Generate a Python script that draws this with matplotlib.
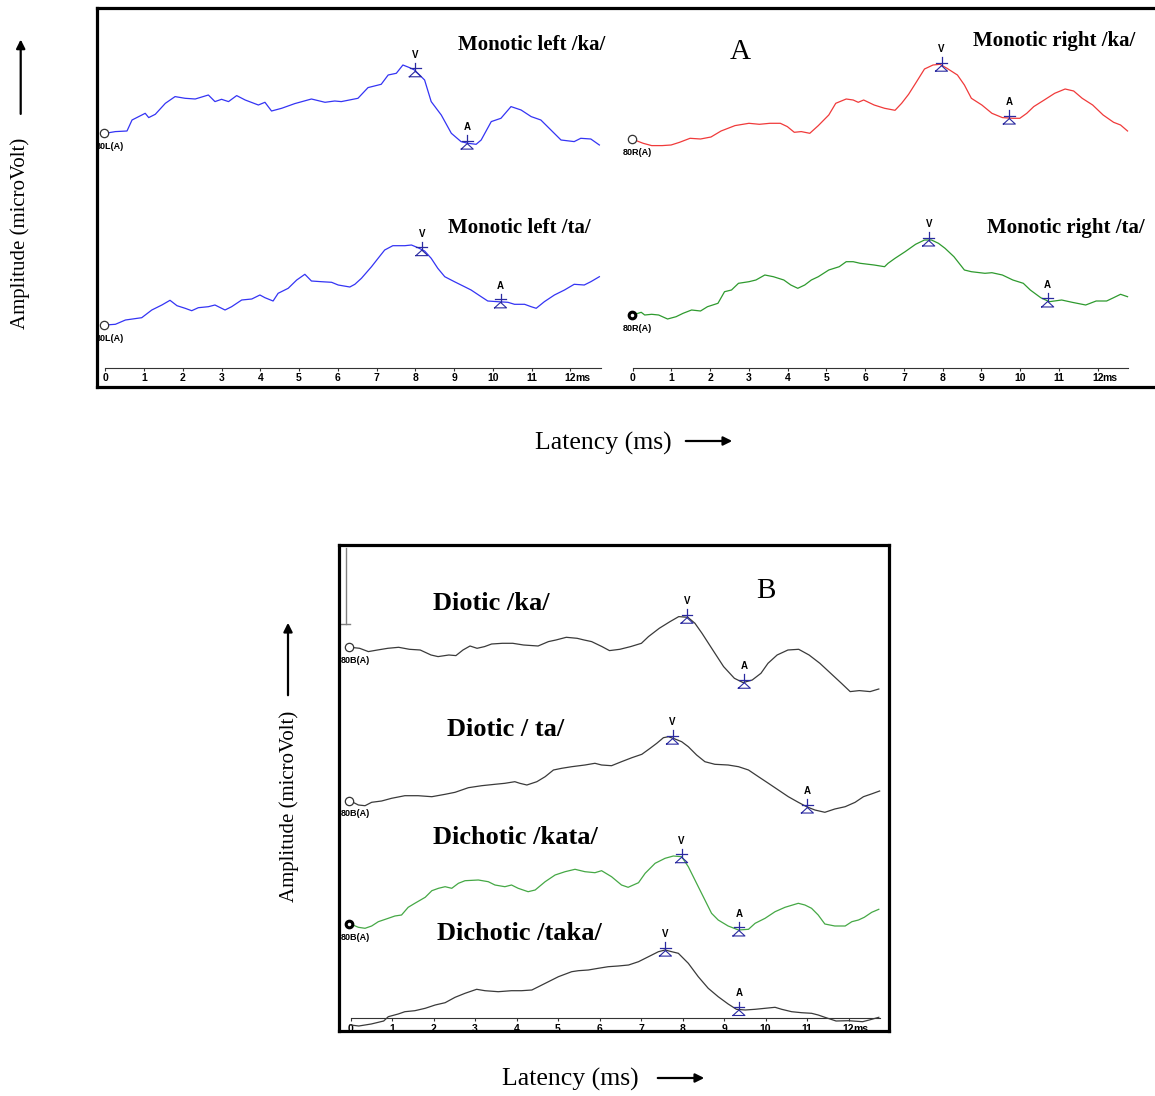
import numpy as np
import matplotlib.pyplot as plt

# ---- data: (latency ms, amplitude), amplitude in px-ish units
left_ka = [(0, 0), (0.26, 1.7), (0.56, 2.3), (0.69, 13.3), (1.03, 20), (1.12, 15.7), (1.29, 19),
           (1.55, 30), (1.80, 36.7), (2.06, 35), (2.32, 34.3), (2.66, 38.3), (2.83, 31.7), (3.00, 34),
           (3.18, 31.7), (3.39, 37.7), (3.61, 33.3), (3.95, 28.3), (4.12, 31), (4.29, 22.3), (4.55, 25),
           (4.89, 29.7), (5.32, 34.3), (5.67, 31), (5.92, 32.3), (6.09, 31.7), (6.52, 35), (6.78, 45.7),
           (7.12, 49), (7.30, 58.3), (7.51, 60), (7.68, 68.3), (7.85, 65.7), (7.98, 63.3), (8.24, 53.3),
           (8.41, 31.7), (8.67, 18.3), (8.93, 0), (9.18, -8.3), (9.36, -10), (9.57, -11), (9.70, -6.7),
           (9.96, 11.7), (10.21, 15), (10.47, 26.7), (10.73, 23.3), (10.99, 16.7), (11.24, 13.3),
           (11.50, 3.3), (11.76, -6.7), (12.10, -8.3), (12.27, -5), (12.53, -5.7), (12.75, -11.7)]
left_ta = [(0, 0), (0.26, 0.7), (0.52, 5), (0.94, 7.3), (1.20, 15), (1.46, 20), (1.67, 24.7), (1.85, 19.3),
           (2.06, 16.7), (2.23, 14.3), (2.40, 17.3), (2.66, 18.3), (2.83, 20), (3.09, 15), (3.26, 18.3),
           (3.52, 25), (3.78, 26), (3.99, 30), (4.12, 27.3), (4.33, 24), (4.46, 31.7), (4.72, 36.7),
           (4.94, 45), (5.15, 50.7), (5.32, 44), (5.58, 43.3), (5.84, 42.7), (6.01, 40), (6.31, 38),
           (6.44, 40.7), (6.61, 46.7), (6.87, 58.3), (7.04, 66.7), (7.21, 75), (7.42, 79.3), (7.73, 79.3),
           (7.90, 80), (8.07, 77.3), (8.24, 74), (8.41, 66.7), (8.58, 56.7), (8.76, 48.3), (9.01, 43.3),
           (9.27, 38.3), (9.44, 35), (9.70, 28.3), (9.87, 24), (10.13, 23.3), (10.39, 22.7), (10.56, 20.7),
           (10.82, 20.7), (10.99, 18.3), (11.12, 16.7), (11.33, 23.3), (11.59, 30), (11.85, 35),
           (12.10, 40.7), (12.36, 40), (12.53, 43.3), (12.75, 48.3)]
right_ka = [(0, 0), (0.27, -4), (0.49, -6.3), (0.76, -6.3), (0.99, -5.7), (1.21, -3), (1.48, 1), (1.75, 0.3),
            (2.02, 2.3), (2.28, 8.3), (2.64, 13.7), (3.00, 16), (3.27, 15), (3.54, 16), (3.81, 16),
            (3.99, 12.7), (4.17, 7), (4.35, 7.7), (4.57, 6), (4.79, 13.7), (5.06, 24.3), (5.24, 36),
            (5.51, 40.3), (5.69, 39.3), (5.82, 37), (5.96, 39.3), (6.23, 34.3), (6.50, 31), (6.77, 29),
            (6.94, 36), (7.12, 45), (7.30, 56), (7.53, 70.3), (7.75, 74.3), (7.93, 75), (8.11, 71),
            (8.38, 64.3), (8.56, 54.3), (8.74, 41), (9.01, 34.3), (9.27, 26), (9.54, 21.7), (9.81, 21),
            (9.99, 21), (10.17, 26), (10.35, 32.7), (10.62, 39.3), (10.89, 46), (11.16, 50.3),
            (11.38, 48.3), (11.60, 41), (11.87, 34.3), (12.14, 24.3), (12.41, 17), (12.59, 14.3),
            (12.77, 8.3)]
right_ta = [(0, 0), (0.22, 2.7), (0.31, 0), (0.49, 0.7), (0.67, 0), (0.90, -4), (1.12, -1.7), (1.30, 1.7),
            (1.52, 5), (1.75, 4), (1.93, 8.3), (2.20, 11.7), (2.37, 23.3), (2.55, 25), (2.73, 31.7),
            (3.00, 33.3), (3.18, 35), (3.41, 40), (3.63, 38.3), (3.90, 35), (4.08, 30), (4.26, 26.7),
            (4.44, 30), (4.61, 35), (4.79, 38.3), (5.06, 45), (5.33, 48.3), (5.51, 53.3), (5.69, 53.3),
            (5.87, 51.7), (6.23, 50), (6.50, 48.3), (6.59, 51.7), (6.77, 56.7), (7.03, 63.3), (7.30, 70.7),
            (7.53, 75), (7.71, 75), (7.89, 71.7), (8.06, 66.7), (8.29, 58.3), (8.56, 45), (8.74, 43.3),
            (9.09, 41.7), (9.27, 42.3), (9.54, 40), (9.81, 35), (10.08, 31.7), (10.26, 25), (10.53, 17.3),
            (10.75, 13.3), (11.07, 15), (11.34, 12.7), (11.69, 10), (11.96, 14), (12.23, 14),
            (12.41, 17.3), (12.59, 20.7), (12.77, 18.3)]
diotic_ka = [(0, 0), (0.22, -1), (0.43, -4.3), (0.65, -2.7), (0.90, -1), (1.16, 0), (1.42, -2), (1.68, -2.7),
             (1.94, -7.7), (2.11, -9.3), (2.37, -7.7), (2.54, -8.3), (2.71, -2.7), (2.88, 1.3), (3.05, -1),
             (3.23, 0.7), (3.40, 3.3), (3.66, 4), (3.91, 4), (4.17, 2.3), (4.52, 1.3), (4.77, 5.7),
             (4.95, 7.3), (5.20, 10), (5.46, 9), (5.63, 7.3), (5.81, 5.7), (6.06, 0.7), (6.24, -3.3),
             (6.49, -2), (6.75, 0.7), (7.01, 4), (7.18, 10.7), (7.44, 19), (7.70, 25.7), (7.91, 30.7),
             (8.13, 30), (8.30, 24), (8.47, 14), (8.73, -2.7), (8.99, -19.3), (9.25, -31), (9.46, -35.3),
             (9.68, -32.7), (9.89, -26), (10.06, -16), (10.28, -7.7), (10.54, -2.7), (10.80, -2),
             (11.05, -7.7), (11.31, -16), (11.57, -26), (11.83, -36), (12.04, -44.3), (12.26, -43.3),
             (12.52, -44.3), (12.73, -41.7)]
diotic_ta = [(0, 0), (0.19, -4), (0.35, -4.7), (0.51, -1.3), (0.75, 0), (0.99, 2.7), (1.31, 5.3), (1.63, 5.3),
             (1.96, 4.3), (2.28, 6.7), (2.52, 8.7), (2.84, 13.3), (3.16, 15.3), (3.48, 16.7), (3.72, 17.7),
             (3.96, 19.3), (4.08, 17.7), (4.25, 16), (4.49, 19.3), (4.69, 24.3), (4.89, 31), (5.09, 32.7),
             (5.33, 34.3), (5.65, 36), (5.89, 37.7), (6.05, 36), (6.29, 35.3), (6.53, 39.3), (6.78, 43.3),
             (7.02, 46.7), (7.22, 52.7), (7.38, 57.7), (7.54, 63.3), (7.66, 64.3), (7.82, 62), (7.98, 59.3),
             (8.14, 54.3), (8.34, 46), (8.54, 39.3), (8.78, 36.7), (9.10, 36), (9.35, 34.3), (9.59, 31),
             (9.83, 24.3), (10.07, 17.7), (10.31, 11), (10.55, 4.3), (10.79, -1.3), (10.99, -5.7),
             (11.19, -9), (11.43, -11.3), (11.67, -8), (11.92, -5.7), (12.16, -1.3), (12.36, 4.3),
             (12.55, 7), (12.75, 10)]
dichotic_kata = [(0, 0), (0.19, -3.3), (0.35, -4.3), (0.51, -2), (0.67, 2.3), (0.91, 5.7), (1.07, 8), (1.23, 9),
                 (1.39, 16.7), (1.55, 20.7), (1.80, 26.7), (1.96, 33.3), (2.12, 35.7), (2.28, 37.3),
                 (2.44, 35.7), (2.60, 40.7), (2.76, 43.3), (3.08, 44), (3.32, 42.3), (3.48, 39), (3.72, 37.3),
                 (3.88, 39), (4.04, 35.7), (4.28, 32.3), (4.45, 34), (4.69, 42.3), (4.93, 49), (5.17, 52.3),
                 (5.41, 54.7), (5.65, 52.3), (5.89, 51.3), (6.05, 53.3), (6.29, 47.3), (6.53, 39), (6.69, 36.7),
                 (6.94, 41.3), (7.10, 50.7), (7.34, 60.7), (7.58, 65.7), (7.78, 68), (7.98, 67.3), (8.14, 57.3),
                 (8.38, 37.3), (8.54, 24), (8.70, 10.7), (8.86, 4), (9.10, -2), (9.35, -6), (9.59, -5.3),
                 (9.75, 0.7), (9.99, 5.7), (10.23, 12.3), (10.47, 16.7), (10.79, 20.7), (10.95, 19),
                 (11.11, 15.7), (11.27, 9), (11.43, 0), (11.67, -2), (11.92, -2), (12.08, 2.3), (12.24, 4),
                 (12.38, 6.7), (12.56, 11.7), (12.73, 14.7)]
dichotic_taka = [(0, 0), (0.2, -1), (0.5, 1), (0.8, 4), (0.91, 8.3), (1.15, 11), (1.31, 13.3), (1.55, 14.3),
                 (1.80, 16.7), (2.04, 20), (2.28, 22.3), (2.52, 27.7), (2.76, 31.7), (3.04, 35.7), (3.24, 34.3),
                 (3.56, 33.3), (3.88, 34.3), (4.12, 34.3), (4.37, 35), (4.53, 38.3), (4.77, 43.3), (5.01, 48.3),
                 (5.33, 53.3), (5.49, 54.3), (5.73, 55), (5.97, 56.7), (6.21, 58.3), (6.45, 59), (6.70, 60),
                 (6.94, 63.3), (7.18, 68.3), (7.42, 73.3), (7.58, 75), (7.74, 73.3), (7.90, 71.7), (8.14, 61.7),
                 (8.38, 48.3), (8.62, 36.7), (8.86, 28.3), (9.10, 21), (9.30, 15.7), (9.51, 15), (9.75, 15.7),
                 (9.99, 16.7), (10.23, 17.7), (10.39, 15.7), (10.63, 13.3), (10.87, 12.3), (11.11, 11.7),
                 (11.27, 10), (11.43, 7.7), (11.7, 4), (12.0, 4.3), (12.34, 3.3), (12.5, 5), (12.73, 7.7)]

# wave V / A latencies (ms)
peaks_left_ka = [(8.00, "V"), (9.34, "A")]
peaks_left_ta = [(8.17, "V"), (10.20, "A")]
peaks_right_ka = [(7.97, "V"), (9.72, "A")]
peaks_right_ta = [(7.64, "V"), (10.71, "A")]
peaks_diotic_ka = [(8.11, "V"), (9.49, "A")]
peaks_diotic_ta = [(7.76, "V"), (11.01, "A")]
peaks_kata = [(7.98, "V"), (9.36, "A")]
peaks_taka = [(7.59, "V"), (9.36, "A")]

tick_labels = ["0", "1", "2", "3", "4", "5", "6", "7", "8", "9", "10", "11", "12"]

W, H = 1155, 1096
SERIF = "Liberation Serif"
SANS = "Liberation Sans"
MARK = "#2a2aa0"

fig = plt.figure(figsize=(W / 100, H / 100), dpi=100)


def px_axes(x0, y0, x1, y1):
    return fig.add_axes([x0 / W, 1 - y1 / H, (x1 - x0) / W, (y1 - y0) / H])


def box(x0, y0, x1, y1, right=True):
    b = px_axes(x0, y0, x1, y1)
    b.set_xticks([])
    b.set_yticks([])
    for s in b.spines.values():
        s.set_linewidth(2.3)
    b.spines["right"].set_visible(right)
    return b


def trace_axes(x0, y0, y1, xmax, ppm, axis_y):
    ax = px_axes(x0, y0, x0 + xmax * ppm, y1)
    ax.set_xlim(0, xmax)
    ax.set_ylim(0, y1 - y0)
    ax.patch.set_visible(False)
    for s in ["left", "right", "top"]:
        ax.spines[s].set_visible(False)
    ax.spines["bottom"].set_position(("data", y1 - axis_y))
    ax.spines["bottom"].set_linewidth(0.8)
    ax.spines["bottom"].set_color("#333333")
    ax.set_yticks([])
    ax.set_xticks(range(13))
    ax.set_xticklabels(tick_labels, fontsize=7.5, fontweight="bold", family=SANS)
    ax.tick_params(axis="x", length=2.5, width=0.8, pad=1.5, color="#333333")
    ax.annotate("ms", xy=(12, y1 - axis_y), xytext=(3.6, -4), textcoords="offset points",
                ha="left", va="top", fontsize=7.5, fontweight="bold", family=SANS)
    ax.ppm = ppm
    return ax


def peak_marks(ax, ms, amp, offset, peaks):
    d = 6 / ax.ppm
    for lat, lab in peaks:
        y = np.interp(lat, ms, amp) + offset
        ax.plot([lat, lat], [y, y + 8], color=MARK, lw=0.9, zorder=5)
        ax.plot([lat - 0.9 * d, lat + 0.9 * d], [y + 2.5, y + 2.5], color=MARK, lw=0.9, zorder=5)
        ax.plot([lat - d, lat, lat + d, lat - d], [y - 6, y - 0.5, y - 6, y - 6], color=MARK, lw=0.8, zorder=5)
        ax.text(lat, y + 16, lab, ha="center", va="center", fontsize=7, fontweight="bold", family=SANS)


def draw_trace(ax, pts, offset, color, peaks, tag=None, filled=False, clipbox=None):
    ms, amp = np.array(pts).T
    ax.plot(ms, amp + offset, color=color, lw=0.9, clip_on=False, zorder=3)
    if tag is not None:
        if filled:
            ax.plot(-0.03, amp[0] + offset, "o", ms=6, mfc="black", mec="black", clip_on=False, zorder=4)
            ax.plot(-0.03, amp[0] + offset, "o", ms=1.5, mfc="white", mec="white", clip_on=False, zorder=5)
        else:
            ax.plot(-0.03, amp[0] + offset, "o", ms=6, mfc="white", mec="#333333", mew=0.9,
                    clip_on=False, zorder=4)
        t = ax.text(-9.5 / ax.ppm, amp[0] + offset - 13, tag, ha="left", va="center", fontsize=6.5,
                    fontweight="bold", family=SANS, clip_on=True)
        t.set_clip_box(clipbox.bbox)
    peak_marks(ax, ms, amp, offset, peaks)


def ftext(x, y, s, **kw):
    fig.text(x / W, 1 - y / H, s, **kw)


def arrow(x0, y0, x1, y1):
    fig.add_artist(plt.matplotlib.patches.FancyArrowPatch(
        (x0 / W, 1 - y0 / H), (x1 / W, 1 - y1 / H), transform=fig.transFigure,
        arrowstyle="-|>", mutation_scale=13, lw=1.6, color="black"))


# ---- panel A
boxA = box(97, 8, 1170, 387, right=False)
axL = trace_axes(105.3, 10, 385, 12.8, 38.75, 367.7)
axR = trace_axes(632.7, 10, 385, 12.78, 38.75, 367.7)
draw_trace(axL, left_ka, 251.7, "#3434f4", peaks_left_ka, "80L(A)", False, boxA)
draw_trace(axL, left_ta, 60, "#3434f4", peaks_left_ta, "80L(A)", False, boxA)
draw_trace(axR, right_ka, 245.7, "#f03a3a", peaks_right_ka, "80R(A)", False, boxA)
draw_trace(axR, right_ta, 70, "#2e9a2e", peaks_right_ta, "80R(A)", True, boxA)

title_kw = dict(family=SERIF, fontweight="bold", fontsize=15, ha="left", va="center")
ftext(458, 45, "Monotic left /ka/", **title_kw)
ftext(973, 41, "Monotic right /ka/", **title_kw)
ftext(448, 228, "Monotic left /ta/", **title_kw)
ftext(987, 228, "Monotic right /ta/", **title_kw)
ftext(740, 52, "A", family=SERIF, fontsize=21, ha="center", va="center")

ftext(20, 233.5, "Amplitude (microVolt)", family=SERIF, fontsize=15, rotation=90, ha="center", va="center")
arrow(20.7, 116.7, 20.7, 36.7)
ftext(603.5, 443, "Latency (ms)", family=SERIF, fontsize=18.5, ha="center", va="center")
arrow(683, 441, 735, 441)

# ---- panel B
boxB = box(339, 545, 889, 1031)
axB = trace_axes(350.5, 548, 1029, 12.75, 41.5, 1018)
draw_trace(axB, diotic_ka, 381.7, "#3a3a3a", peaks_diotic_ka, "80B(A)", False, boxB)
draw_trace(axB, diotic_ta, 228, "#3a3a3a", peaks_diotic_ta, "80B(A)", False, boxB)
draw_trace(axB, dichotic_kata, 105, "#45a845", peaks_kata, "80B(A)", True, boxB)
draw_trace(axB, dichotic_taka, 4, "#3a3a3a", peaks_taka)

# calibration bar in the corner
boxB.plot([0.013, 0.013], [0.994, 0.837], color="#808080", lw=1, transform=boxB.transAxes)
boxB.plot([0.003, 0.02], [0.837, 0.837], color="#808080", lw=1, transform=boxB.transAxes)

titleB_kw = dict(family=SERIF, fontweight="bold", fontsize=19, ha="left", va="center")
ftext(433, 603, "Diotic /ka/", **titleB_kw)
ftext(447, 729, "Diotic / ta/", **titleB_kw)
ftext(433, 837, "Dichotic /kata/", **titleB_kw)
ftext(437, 933, "Dichotic /taka/", **titleB_kw)
ftext(766, 591, "B", family=SERIF, fontsize=21, ha="center", va="center")

ftext(289, 806.5, "Amplitude (microVolt)", family=SERIF, fontsize=15, rotation=90, ha="center", va="center")
arrow(288, 698, 288, 620)
ftext(570, 1079, "Latency (ms)", family=SERIF, fontsize=18.5, ha="center", va="center")
arrow(655, 1078, 707, 1078)

fig.savefig("out.png", dpi=100)
